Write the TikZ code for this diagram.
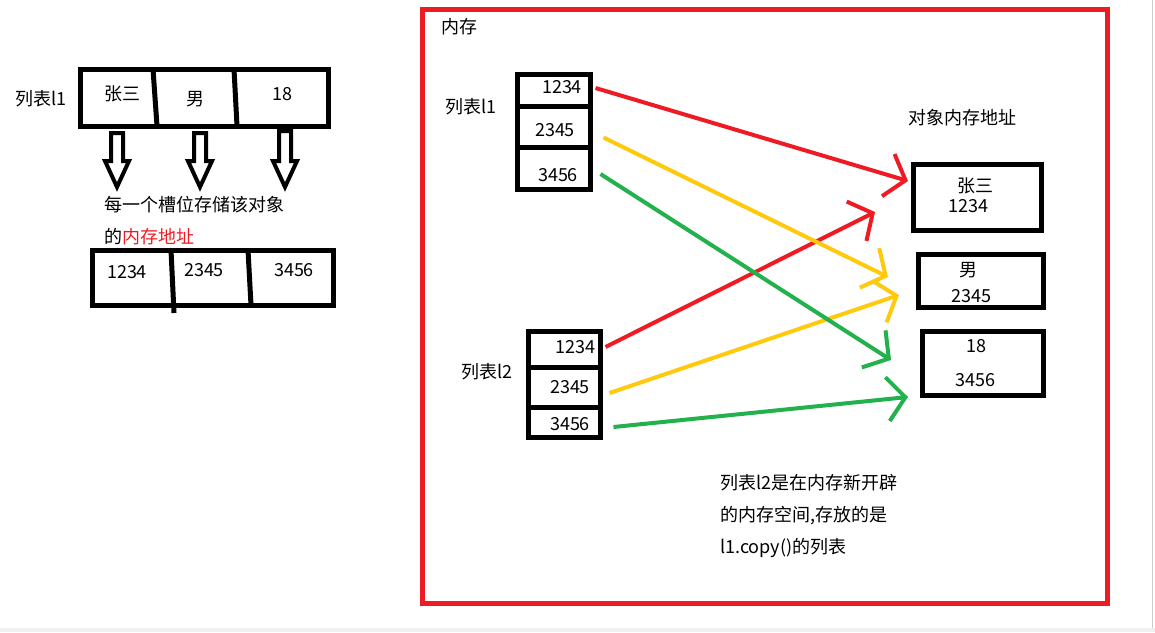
\documentclass[tikz,border=0pt]{standalone}
\usepackage{fontspec}
\setmainfont{Noto Sans CJK SC}
\usepackage{tikz}
\usetikzlibrary{arrows.meta, positioning, calc}
\usepackage{xcolor}
\definecolor{memred}{RGB}{237,28,36}
\definecolor{refyellow}{RGB}{255,201,14}
\definecolor{refgreen}{RGB}{34,177,76}
\tikzstyle{txt} = [inner sep=0pt, font=\fontsize{18}{21}\selectfont]
\tikzstyle{cell} = [rectangle, draw=black, line width=5pt, inner sep=0pt]
\tikzstyle{ref} = [line width=4pt, -{Straight Barb[length=18pt,width=44pt]}]
\tikzstyle{hollow} = [line width=4pt, line join=miter]

\begin{document}
\begin{tikzpicture}[x=1pt, y=-1pt]
        \useasboundingbox (0,0) rectangle (1155,632);
        \fill[gray!12] (0,628) rectangle (1155,632);
        \draw[gray!40, line width=1pt] (1152,0) -- (1152,628);

        % left: list l1 and its slots
        \node (l1left) [txt] at (41,99) {列表l1};
        \draw[line width=5pt] (80,69) rectangle (328,126);
        \draw[line width=5pt] (153,69) -- (157,126);
        \draw[line width=5pt] (234,69) -- (237,126);
        \node (name) [txt] at (122,94) {张三};
        \node (sex) [txt] at (195,99) {男};
        \node (age) [txt] at (282,94) {18};

        \foreach \cx/\top in {117/133, 200/133, 285/131}
            \draw[hollow] (\cx-6,\top) -- (\cx+6,\top) -- (\cx+6,161) -- (\cx+12,161)
                -- (\cx,187) -- (\cx-12,161) -- (\cx-6,161) -- cycle;

        \node (note1) [txt, anchor=west] at (104,205) {每一个槽位存储该对象};
        \node (note2) [txt, anchor=west] at (104,237) {的\textcolor{memred}{内存地址}};

        \draw[line width=5pt] (92,250) rectangle (333,305);
        \draw[line width=5pt] (171,250) -- (174,313);
        \draw[line width=5pt] (248,250) -- (251,305);
        \node (addr1) [txt] at (127,272) {1234};
        \node (addr2) [txt] at (204,270) {2345};
        \node (addr3) [txt] at (294,270) {3456};

        % right: memory
        \draw[memred, line width=5pt] (422,9) rectangle (1107,603);
        \node (mem) [txt] at (459,27) {内存};

        \node (c11) [cell, minimum width=73, minimum height=32] at (553.5,90) {};
        \node (c12) [cell, minimum width=73, minimum height=41] at (553.5,126.5) {};
        \node (c13) [cell, minimum width=73, minimum height=42] at (553.5,168) {};
        \node [txt] at (562,87) {1234};
        \node [txt] at (555,130) {2345};
        \node [txt] at (558,175) {3456};
        \node (l1label) [txt] at (471,107) {列表l1};

        \node (c21) [cell, minimum width=72, minimum height=36] at (564,349) {};
        \node (c22) [cell, minimum width=72, minimum height=40] at (564,387) {};
        \node (c23) [cell, minimum width=72, minimum height=30] at (564,422) {};
        \node [txt] at (575,347) {1234};
        \node [txt] at (570,387) {2345};
        \node [txt] at (570,424) {3456};
        \node (l2label) [txt] at (487,372) {列表l2};

        \node (objtitle) [txt] at (962,118) {对象内存地址};
        \node (o1) [cell, minimum width=128, minimum height=66] at (977,197) {};
        \node (o2) [cell, minimum width=125, minimum height=53] at (980.5,280.5) {};
        \node (o3) [cell, minimum width=121, minimum height=64] at (982.5,363) {};
        \node [txt] at (975,186) {张三};
        \node [txt] at (968,206) {1234};
        \node [txt] at (968,270) {男};
        \node [txt] at (971,296) {2345};
        \node [txt] at (976,346) {18};
        \node [txt] at (975,380) {3456};

        \coordinate (r1) at (908,181);
        \coordinate (r2) at (875,212);
        \coordinate (y1) at (888,277);
        \coordinate (y2) at (899,295);
        \coordinate (g1) at (891,360);
        \coordinate (g2) at (908,397);

        \draw [ref, memred] ($(c11.east)+(3,-2)$) -- (r1);
        \draw [ref, memred] ($(c21.east)+(3,-2)$) -- (r2);
        \draw [ref, refyellow] ($(c12.east)+(11,11)$) -- (y1);
        \draw [ref, refyellow] ($(c22.east)+(7,6)$) -- (y2);
        \draw [ref, refgreen] ($(c13.east)+(8,6)$) -- (g1);
        \draw [ref, refgreen] ($(c23.east)+(11,5)$) -- (g2);

        \node (desc1) [txt, anchor=west] at (720,483) {列表l2是在内存新开辟};
        \node (desc2) [txt, anchor=west] at (720,516) {的内存空间,存放的是};
        \node (desc3) [txt, anchor=west] at (720,548) {l1.copy()的列表};
    \end{tikzpicture}
\end{document}
